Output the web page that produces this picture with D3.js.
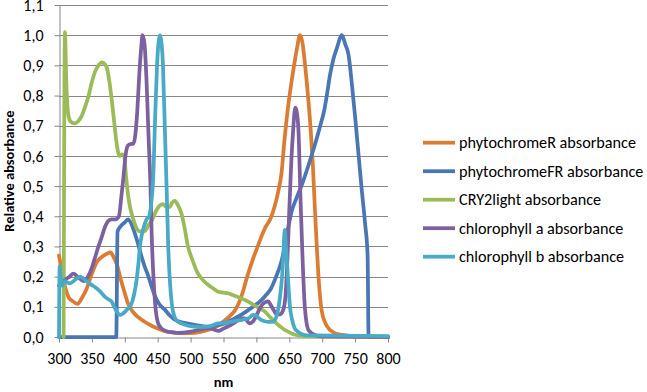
<!DOCTYPE html>
<html>
<head>
<meta charset="utf-8">
<script src="https://cdn.jsdelivr.net/npm/d3@7"></script>
<style>
  body { margin: 0; background: #fff; }
  text { font-family: Calibri, Carlito, "Liberation Sans", Arial, sans-serif; fill: #000; }
</style>
</head>
<body>
<div id="chart"></div>
<script>
// Axis ticks
const xTicks = [300, 350, 400, 450, 500, 550, 600, 650, 700, 750, 800];
const yTicks = [0, 0.1, 0.2, 0.3, 0.4, 0.5, 0.6, 0.7, 0.8, 0.9, 1.0, 1.1];

const seriesNames = ['phytochromeR absorbance', 'phytochromeFR absorbance', 'CRY2light absorbance',
  'chlorophyll a absorbance', 'chlorophyll b absorbance'];
const seriesColors = ['#DC7C33', '#4A76B4', '#9BBB59', '#7D60A0', '#47AAC6'];

// [wavelength nm, relative absorbance]
const phytochromeR = [
  [300, 0.27], [305, 0.21], [310, 0.16], [315, 0.13], [320, 0.12], [328, 0.11], [335, 0.13], [342, 0.16],
  [350, 0.21], [358, 0.25], [365, 0.265], [372, 0.275], [378, 0.28], [383, 0.265], [388, 0.24], [394, 0.19],
  [400, 0.145], [405, 0.11], [410, 0.09], [418, 0.07], [425, 0.058], [432, 0.048], [440, 0.038], [450, 0.028],
  [460, 0.02], [470, 0.016], [485, 0.013], [500, 0.013], [515, 0.017], [526, 0.023], [540, 0.035], [552, 0.055],
  [560, 0.07], [568, 0.09], [578, 0.14], [586, 0.2], [595, 0.26], [602, 0.3], [608, 0.335], [614, 0.365],
  [621, 0.39], [628, 0.435], [633, 0.48], [638, 0.54], [643, 0.66], [648, 0.76], [653, 0.84], [658, 0.91],
  [662, 0.96], [666, 1.0], [670, 0.975], [674, 0.9], [679, 0.785], [683, 0.67], [686, 0.56], [689, 0.42],
  [692, 0.29], [695, 0.18], [699, 0.09], [705, 0.045], [712, 0.023], [720, 0.012], [730, 0.007], [745, 0.003],
  [760, 0.001], [800, 0]
];

const phytochromeFR = [
  [300, 0], [387, 0], [389, 0.35], [395, 0.37], [400, 0.38], [405, 0.39], [410, 0.375], [415, 0.345],
  [420, 0.31], [425, 0.27], [430, 0.235], [436, 0.2], [441, 0.165], [446, 0.135], [452, 0.11], [461, 0.09],
  [468, 0.072], [476, 0.057], [488, 0.048], [502, 0.042], [515, 0.037], [526, 0.034], [540, 0.038], [552, 0.045],
  [567, 0.062], [578, 0.075], [588, 0.09], [598, 0.105], [608, 0.123], [615, 0.14], [622, 0.16], [630, 0.2],
  [638, 0.25], [644, 0.31], [649, 0.37], [654, 0.42], [660, 0.455], [670, 0.51], [680, 0.575], [690, 0.645],
  [697, 0.7], [703, 0.75], [707, 0.8], [712, 0.87], [717, 0.92], [722, 0.955], [730, 1.0], [735, 0.97],
  [740, 0.935], [745, 0.84], [750, 0.73], [755, 0.61], [760, 0.49], [765, 0.38], [769, 0.27], [770.5, 0],
  [800, 0]
];

const cry2Light = [
  [307, 0], [309, 1.01], [311, 0.85], [313, 0.76], [316, 0.72], [320, 0.71], [324, 0.708], [329, 0.715],
  [334, 0.73], [340, 0.765], [345, 0.8], [350, 0.845], [355, 0.88], [360, 0.9], [365, 0.91], [369, 0.905],
  [373, 0.89], [377, 0.84], [381, 0.77], [385, 0.69], [388, 0.635], [392, 0.6], [396, 0.605], [399, 0.6],
  [402, 0.53], [405, 0.47], [408, 0.43], [413, 0.39], [418, 0.36], [423, 0.35], [430, 0.35], [436, 0.37],
  [442, 0.39], [448, 0.42], [453, 0.435], [458, 0.44], [464, 0.43], [468, 0.43], [472, 0.445], [476, 0.452],
  [480, 0.44], [486, 0.41], [491, 0.36], [496, 0.3], [502, 0.26], [510, 0.215], [518, 0.19], [527, 0.172],
  [535, 0.16], [542, 0.15], [550, 0.147], [557, 0.145], [565, 0.138], [577, 0.128], [585, 0.12], [593, 0.11],
  [603, 0.097], [613, 0.084], [620, 0.068], [628, 0.05], [636, 0.035], [642, 0.025], [648, 0.018], [655, 0.01],
  [664, 0.005], [680, 0.002], [800, 0]
];

const chlorophyllA = [
  [300, 0.17], [305, 0.18], [310, 0.19], [316, 0.2], [322, 0.21], [328, 0.2], [334, 0.19], [338, 0.185],
  [344, 0.2], [350, 0.23], [355, 0.265], [360, 0.3], [365, 0.332], [370, 0.365], [375, 0.385], [380, 0.39],
  [386, 0.39], [391, 0.4], [395, 0.47], [398, 0.53], [401, 0.6], [405, 0.635], [410, 0.64], [413, 0.64],
  [416, 0.67], [419, 0.75], [422, 0.87], [425, 0.96], [427, 1.0], [430, 0.97], [433, 0.85], [436, 0.67],
  [439, 0.5], [441, 0.33], [444, 0.18], [447, 0.09], [450, 0.05], [455, 0.03], [462, 0.02], [470, 0.016],
  [480, 0.014], [500, 0.018], [515, 0.025], [527, 0.029], [535, 0.025], [542, 0.02], [550, 0.028], [557, 0.035],
  [565, 0.045], [572, 0.056], [578, 0.062], [583, 0.062], [587, 0.05], [590, 0.045], [594, 0.05], [598, 0.062],
  [603, 0.085], [608, 0.105], [613, 0.115], [618, 0.118], [622, 0.105], [626, 0.09], [631, 0.075], [636, 0.075],
  [640, 0.085], [644, 0.13], [647, 0.25], [650, 0.42], [653, 0.58], [656, 0.69], [659, 0.76], [661, 0.75],
  [664, 0.68], [667, 0.46], [670, 0.27], [673, 0.12], [676, 0.05], [680, 0.02], [690, 0.006], [700, 0.002],
  [800, 0]
];

const chlorophyllB = [
  [300, 0], [301, 0.235], [303, 0.19], [305, 0.17], [309, 0.185], [313, 0.18], [317, 0.178], [322, 0.185],
  [327, 0.194], [332, 0.2], [336, 0.195], [340, 0.189], [345, 0.18], [350, 0.172], [355, 0.165], [360, 0.156],
  [365, 0.145], [370, 0.133], [375, 0.125], [380, 0.117], [384, 0.1], [388, 0.084], [392, 0.073], [397, 0.077],
  [403, 0.09], [408, 0.1], [411, 0.115], [414, 0.14], [418, 0.19], [421, 0.25], [423, 0.3], [426, 0.34],
  [429, 0.365], [433, 0.39], [437, 0.4], [440, 0.44], [443, 0.52], [446, 0.72], [449, 0.9], [451, 0.97],
  [453.5, 1.0], [456, 0.97], [458, 0.9], [461, 0.68], [463.5, 0.5], [466, 0.3], [469, 0.17], [472, 0.1],
  [476, 0.065], [480, 0.052], [486, 0.045], [495, 0.038], [505, 0.034], [515, 0.033], [526, 0.034], [535, 0.04],
  [542, 0.045], [552, 0.047], [560, 0.05], [570, 0.054], [578, 0.057], [588, 0.062], [595, 0.073], [600, 0.07],
  [604, 0.062], [608, 0.056], [613, 0.052], [618, 0.05], [624, 0.05], [628, 0.056], [632, 0.08], [636, 0.135],
  [639, 0.2], [641, 0.27], [643, 0.355], [645, 0.3], [647, 0.23], [649, 0.16], [651, 0.1], [654, 0.06],
  [658, 0.03], [664, 0.016], [672, 0.007], [680, 0.005], [800, 0.003]
];

const allSeries = [phytochromeR, phytochromeFR, cry2Light, chlorophyllA, chlorophyllB];

const width = 647, height = 392;
const plot = {left: 59, right: 388, top: 5, bottom: 337};

const svg = d3.select('#chart')
  .append('svg')
  .attr('width', width)
  .attr('height', height);

const x = d3.scaleLinear().domain([300, 800]).range([plot.left, plot.right]);
const y = d3.scaleLinear().domain([0, 1.1]).range([plot.bottom, plot.top]);

// Gridlines
svg.append('g')
  .selectAll('line')
  .data(yTicks.filter(d => d > 0))
  .enter()
  .append('line')
  .attr('x1', plot.left)
  .attr('x2', plot.right)
  .attr('y1', d => Math.round(y(d)) + 0.5)
  .attr('y2', d => Math.round(y(d)) + 0.5)
  .attr('stroke', '#868686')
  .attr('stroke-width', 1);

// Axes
const fmt = d => d3.format('.1f')(d).replace('.', ',');

svg.append('g')
  .attr('transform', `translate(${plot.left + 0.5},0)`)
  .call(d3.axisLeft(y).tickValues(yTicks).tickFormat(fmt).tickSize(5).tickSizeOuter(0).tickPadding(11));

svg.append('g')
  .attr('transform', `translate(0,${plot.bottom + 0.5})`)
  .call(d3.axisBottom(x).tickValues(xTicks).tickFormat(d3.format('d')).tickSize(5).tickSizeOuter(0).tickPadding(10));

svg.selectAll('.domain, .tick line').attr('stroke', '#868686');
svg.selectAll('.tick text')
  .style('font-size', '16px')
  .style('font-family', 'Calibri, Carlito, "Liberation Sans", Arial, sans-serif')
  .attr('fill', '#000');

// Series lines
const line = d3.line()
  .x(d => x(d[0]))
  .y(d => y(d[1]))
  .curve(d3.curveMonotoneX);

svg.append('g')
  .selectAll('path')
  .data(allSeries)
  .enter()
  .append('path')
  .attr('fill', 'none')
  .attr('stroke', (d, i) => seriesColors[i])
  .attr('stroke-width', 3.75)
  .attr('stroke-linejoin', 'round')
  .attr('stroke-linecap', 'round')
  .attr('d', line);

// Axis titles
svg.append('text')
  .attr('transform', 'rotate(-90)')
  .attr('x', -(plot.top + plot.bottom) / 2)
  .attr('y', 14)
  .attr('text-anchor', 'middle')
  .style('font-size', '14.5px')
  .style('font-weight', 'bold')
  .text('Relative absorbance');

svg.append('text')
  .attr('x', (plot.left + plot.right) / 2)
  .attr('y', 387)
  .attr('text-anchor', 'middle')
  .style('font-size', '14.5px')
  .style('font-weight', 'bold')
  .text('nm');

// Legend
const legend = svg.append('g')
  .selectAll('g')
  .data(seriesNames)
  .enter()
  .append('g')
  .attr('transform', (d, i) => `translate(423,${142.7 + i * 28.5})`);

legend.append('line')
  .attr('x1', 0)
  .attr('x2', 32)
  .attr('stroke', (d, i) => seriesColors[i])
  .attr('stroke-width', 3.75);

legend.append('text')
  .attr('x', 36)
  .attr('dy', '0.35em')
  .style('font-size', '16.2px')
  .text(d => d);
</script>
</body>
</html>
